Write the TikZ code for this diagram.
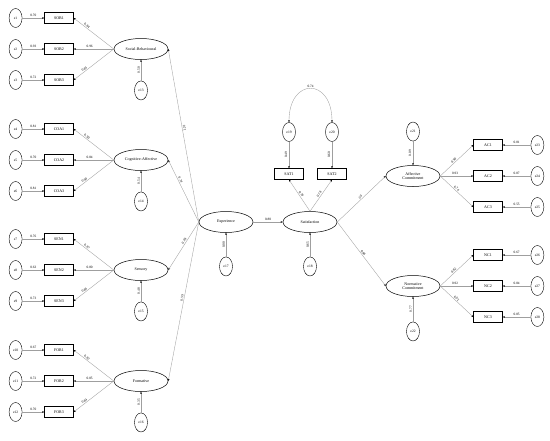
\documentclass[tikz,border=0pt]{standalone}
\usepackage{fontspec}
\setmainfont{Liberation Serif}
\usetikzlibrary{positioning, arrows.meta, shapes.geometric}

\begin{document}
\begin{tikzpicture}[
    x=1pt, y=-1pt,
    font=\fontsize{4}{4.6}\selectfont,
    latent/.style={
        ellipse,
        draw,
        line width=0.5pt,
        minimum width=54pt,
        minimum height=21pt,
        inner sep=0pt,
        align=center
    },
    err/.style={
        ellipse,
        draw,
        line width=0.4pt,
        minimum width=13pt,
        minimum height=19pt,
        inner sep=0pt,
        font=\fontsize{3.6}{4}\selectfont
    },
    item/.style={
        rectangle,
        draw,
        line width=0.4pt,
        minimum width=29pt,
        minimum height=11pt,
        inner sep=0pt
    },
    edge/.style={draw=gray!75, line width=0.35pt, -{Stealth[length=2.2pt, width=1.8pt, color=black]}},
    coef/.style={font=\fontsize{3.4}{4}\selectfont, inner sep=0.8pt}
]
\useasboundingbox (0,0) rectangle (550,440);

% first-order factors of experience
\node[latent] (sb) at (141,49) {Social-Behavioural};
\node[latent] (ca) at (141,160) {Cognitive-Affective};
\node[latent] (sen) at (141,270) {Sensory};
\node[latent] (form) at (141,381) {Formative};

\node[item] (sob1) at (59,18) {SOB1};
\node[item] (sob2) at (59,49) {SOB2};
\node[item] (sob3) at (59,80) {SOB3};
\node[item] (coa1) at (59,129) {COA1};
\node[item] (coa2) at (59,160) {COA2};
\node[item] (coa3) at (59,191) {COA3};
\node[item] (sen1) at (59,239) {SEN1};
\node[item] (sen2) at (59,270) {SEN2};
\node[item] (sen3) at (59,301) {SEN3};
\node[item] (for1) at (59,350) {FOR1};
\node[item] (for2) at (59,381) {FOR2};
\node[item] (for3) at (59,412) {FOR3};

\node[err] (e1) [left=22pt of sob1] {e1};
\node[err] (e2) [left=22pt of sob2] {e2};
\node[err] (e3) [left=22pt of sob3] {e3};
\node[err] (e4) [left=22pt of coa1] {e4};
\node[err] (e5) [left=22pt of coa2] {e5};
\node[err] (e6) [left=22pt of coa3] {e6};
\node[err] (e7) [left=22pt of sen1] {e7};
\node[err] (e8) [left=22pt of sen2] {e8};
\node[err] (e9) [left=22pt of sen3] {e9};
\node[err] (e10) [left=22pt of for1] {e10};
\node[err] (e11) [left=22pt of for2] {e11};
\node[err] (e12) [left=22pt of for3] {e12};

\node[err] (e13) [below=21pt of sb] {e13};
\node[err] (e14) [below=21pt of ca] {e14};
\node[err] (e15) [below=21pt of sen] {e15};
\node[err] (e16) [below=21pt of form] {e16};

% experience and satisfaction
\node[latent] (exp) at (226,222) {Experience};
\node[latent] (sat) at (310,222) {Satisfaction};
\node[err] (e17) [below=24pt of exp] {e17};
\node[err] (e18) [below=24pt of sat] {e18};
\node[item] (sat1) at (289,174) {SAT1};
\node[item] (sat2) at (332,174) {SAT2};
\node[err] (e19) at (289,132) {e19};
\node[err] (e20) at (332,132) {e20};

% commitment
\node[latent] (ac) at (413,176) {Affective\\Commitment};
\node[latent] (nc) at (413,286) {Normative\\Commitment};
\node[err] (e21) [above=24pt of ac] {e21};
\node[err] (e22) [below=25pt of nc] {e22};

\node[item] (ac1) at (488,145) {AC1};
\node[item] (ac2) at (488,176) {AC2};
\node[item] (ac3) at (488,207) {AC3};
\node[item] (nc1) at (488,255) {NC1};
\node[item] (nc2) at (488,286) {NC2};
\node[item] (nc3) at (488,317) {NC3};

\node[err] (e23) [right=28pt of ac1] {e23};
\node[err] (e24) [right=28pt of ac2] {e24};
\node[err] (e25) [right=28pt of ac3] {e25};
\node[err] (e26) [right=28pt of nc1] {e26};
\node[err] (e27) [right=28pt of nc2] {e27};
\node[err] (e28) [right=28pt of nc3] {e28};

% error terms to indicators
\draw[edge] (e1) -- node[coef, above] {0.70} (sob1);
\draw[edge] (e2) -- node[coef, above] {0.93} (sob2);
\draw[edge] (e3) -- node[coef, above] {0.72} (sob3);
\draw[edge] (e4) -- node[coef, above] {0.81} (coa1);
\draw[edge] (e5) -- node[coef, above] {0.70} (coa2);
\draw[edge] (e6) -- node[coef, above] {0.81} (coa3);
\draw[edge] (e7) -- node[coef, above] {0.76} (sen1);
\draw[edge] (e8) -- node[coef, above] {0.63} (sen2);
\draw[edge] (e9) -- node[coef, above] {0.73} (sen3);
\draw[edge] (e10) -- node[coef, above] {0.67} (for1);
\draw[edge] (e11) -- node[coef, above] {0.72} (for2);
\draw[edge] (e12) -- node[coef, above] {0.70} (for3);

% loadings of first-order factors
\draw[edge] (sb.west) -- node[coef, sloped, above, pos=0.7] {0.84} (sob1.east);
\draw[edge] (sb.west) -- node[coef, above, pos=0.6] {0.96} (sob2.east);
\draw[edge] (sb.west) -- node[coef, sloped, above, pos=0.7] {0.85} (sob3.east);
\draw[edge] (ca.west) -- node[coef, sloped, above, pos=0.7] {0.90} (coa1.east);
\draw[edge] (ca.west) -- node[coef, above, pos=0.6] {0.84} (coa2.east);
\draw[edge] (ca.west) -- node[coef, sloped, above, pos=0.7] {0.90} (coa3.east);
\draw[edge] (sen.west) -- node[coef, sloped, above, pos=0.7] {0.87} (sen1.east);
\draw[edge] (sen.west) -- node[coef, above, pos=0.6] {0.80} (sen2.east);
\draw[edge] (sen.west) -- node[coef, sloped, above, pos=0.7] {0.86} (sen3.east);
\draw[edge] (form.west) -- node[coef, sloped, above, pos=0.7] {0.82} (for1.east);
\draw[edge] (form.west) -- node[coef, above, pos=0.6] {0.85} (for2.east);
\draw[edge] (form.west) -- node[coef, sloped, above, pos=0.7] {0.84} (for3.east);

\draw[edge] (e13) -- node[coef, sloped, above] {0.50} (sb);
\draw[edge] (e14) -- node[coef, sloped, above] {0.54} (ca);
\draw[edge] (e15) -- node[coef, sloped, above] {0.48} (sen);
\draw[edge] (e16) -- node[coef, sloped, above] {0.35} (form);

% second-order paths
\draw[edge] (exp.west) -- node[coef, sloped, above, pos=0.54] {0.71} (sb.east);
\draw[edge] (exp.west) -- node[coef, sloped, above, pos=0.66] {0.74} (ca.east);
\draw[edge] (exp.west) -- node[coef, sloped, above, pos=0.42] {0.69} (sen.east);
\draw[edge] (exp.west) -- node[coef, sloped, above, pos=0.48] {0.59} (form.east);

\draw[edge] (e17) -- node[coef, sloped, above] {0.00} (exp);
\draw[edge] (exp) -- node[coef, above] {0.80} (sat);
\draw[edge] (e18) -- node[coef, sloped, above] {0.65} (sat);

% satisfaction indicators
\draw[edge] (sat.north) -- node[coef, sloped, above] {0.70} (sat1.south);
\draw[edge] (sat.north) -- node[coef, sloped, above] {0.78} (sat2.south);
\draw[edge] (e19) -- node[coef, rotate=90, yshift=3pt] {0.49} (sat1);
\draw[edge] (e20) -- node[coef, rotate=90, yshift=3pt] {0.60} (sat2);
\draw[draw=gray!75, line width=0.35pt, {Stealth[length=2.2pt, width=1.8pt, color=black]}-{Stealth[length=2.2pt, width=1.8pt, color=black]}]
    (e19.north) .. controls +(0,-45) and +(0,-45) .. node[coef, above] {0.74} (e20.north);

% commitment paths
\draw[edge] (sat.east) -- node[coef, sloped, above, pos=0.5] {.30} (ac.west);
\draw[edge] (sat.east) -- node[coef, sloped, above, pos=0.5] {0.86} (nc.west);
\draw[edge] (e21) -- node[coef, rotate=90, yshift=3pt] {0.09} (ac);
\draw[edge] (e22) -- node[coef, sloped, above] {0.77} (nc);

\draw[edge] (ac.east) -- node[coef, sloped, above, pos=0.45] {0.90} (ac1.west);
\draw[edge] (ac.east) -- node[coef, above, pos=0.45] {0.93} (ac2.west);
\draw[edge] (ac.east) -- node[coef, sloped, above, pos=0.45] {0.74} (ac3.west);
\draw[edge] (nc.east) -- node[coef, sloped, above, pos=0.45] {0.82} (nc1.west);
\draw[edge] (nc.east) -- node[coef, above, pos=0.45] {0.92} (nc2.west);
\draw[edge] (nc.east) -- node[coef, sloped, above, pos=0.45] {0.92} (nc3.west);

\draw[edge] (e23) -- node[coef, above] {0.81} (ac1);
\draw[edge] (e24) -- node[coef, above] {0.87} (ac2);
\draw[edge] (e25) -- node[coef, above] {0.55} (ac3);
\draw[edge] (e26) -- node[coef, above] {0.67} (nc1);
\draw[edge] (e27) -- node[coef, above] {0.84} (nc2);
\draw[edge] (e28) -- node[coef, above] {0.85} (nc3);

\end{tikzpicture}
\end{document}
